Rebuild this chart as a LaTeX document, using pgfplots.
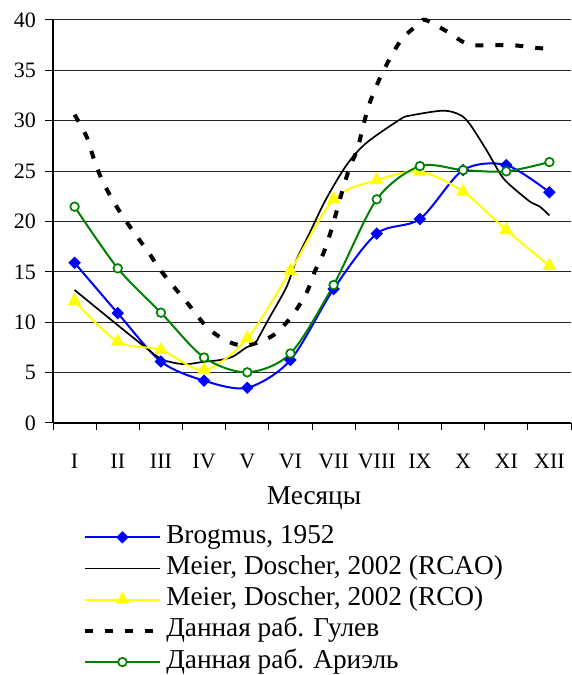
\documentclass[border=0pt]{standalone}
\usepackage{pgfplots}
\pgfplotsset{compat=1.18}
\usepackage{fontspec}
\setmainfont{Liberation Serif}
\usetikzlibrary{plotmarks}

\definecolor{serblue}{RGB}{0,0,255}
\definecolor{seryellow}{RGB}{255,255,0}
\definecolor{sergreen}{RGB}{0,128,0}

\newcommand{\tickfont}{\fontsize{22bp}{26bp}\selectfont}
\newcommand{\legfont}{\fontsize{27.3bp}{31bp}\selectfont}

% monthly means, months numbered 1..12
\pgfplotstableread{
m  v
1  15.9
2  10.9
3  6.1
4  4.2
5  3.5
6  6.25
7  13.3
8  18.8
9  20.25
10 25.1
11 25.6
12 22.9
}\brogmus

\pgfplotstableread{
m  v
1  12.1
2  8.07
3  7.25
4  5.26
5  8.4
6  15.1
7  22.2
8  24.1
9  24.95
10 22.96
11 19.15
12 15.6
}\rco

\pgfplotstableread{
m  v
1  21.47
2  15.35
3  10.95
4  6.5
5  5.03
6  6.9
7  13.7
8  22.2
9  25.5
10 25.1
11 24.98
12 25.9
}\ariel

% finer series (fractional month positions)
\pgfplotstableread{
m     v
1.00  13.2
2.82  6.9
3.21  6.07
3.59  5.84
3.98  6.07
4.37  6.25
4.67  6.6
4.98  7.5
5.18  7.9
5.29  8.7
5.52  10.5
5.91  13.5
6.14  16.2
6.45  18.9
6.81  22.1
7.30  25.6
7.76  27.8
8.53  30.1
8.76  30.5
9.53  31.0
9.92  30.6
10.15 29.7
10.54 27.1
10.85 24.8
11.04 23.8
11.54 22.0
11.77 21.5
12.00 20.6
}\rcao

\pgfplotstableread{
m     v
1.00  30.6
1.28  28.4
1.47  25.9
1.66  23.9
1.97  21.5
2.36  19.0
2.67  17.2
3.02  15.0
3.40  13.0
3.71  11.4
4.09  9.4
4.56  8.07
5.00  7.7
5.60  8.7
6.03  10.6
6.37  12.9
6.56  15.0
6.76  16.8
6.95  19.2
7.22  23.3
7.37  25.3
7.56  27.3
7.68  29.4
7.84  31.8
8.07  34.2
8.32  36.3
8.60  38.2
9.00  39.7
9.13  40.0
9.61  38.9
10.11 37.6
10.65 37.5
11.15 37.5
11.77 37.2
12.00 37.2
}\gulev

\begin{document}
\begin{tikzpicture}[x=1bp,y=1bp]
\path[use as bounding box] (0,0) rectangle (572,675);
\begin{axis}[
  at={(53bp,252bp)}, anchor=south west,
  scale only axis, width=518bp, height=403bp,
  xmin=0.5, xmax=12.5, ymin=0, ymax=40,
  clip=false,
  axis x line*=bottom, axis y line*=left,
  axis line style={-, line width=1.2bp, black},
  xtick={1,...,12},
  xticklabels={I,II,III,IV,V,VI,VII,VIII,IX,X,XI,XII},
  minor xtick={0.5,1.5,...,12.5},
  ytick={0,5,...,40},
  yticklabels={\mbox{0},\mbox{5},\mbox{10},\mbox{15},\mbox{20},\mbox{25},\mbox{30},\mbox{35},\mbox{40}},
  tick align=outside,
  major tick length=8bp, minor tick length=7bp,
  major x tick style={draw=none},
  tick style={line width=1bp, black},
  ymajorgrids,
  major grid style={line width=1bp, black!85},
  xticklabel style={font=\tickfont, anchor=base, inner sep=0pt, yshift=-37.5bp},
  yticklabel style={font=\tickfont, anchor=east, inner sep=0pt, xshift=-9bp},
  xlabel={Месяцы},
  xlabel style={font=\legfont, at={(axis description cs:0.5,0)}, anchor=base, inner sep=0pt, yshift=-82bp, xshift=2bp},
  legend cell align=left,
  legend style={
    at={(axis description cs:0.0573,-0.2538)}, anchor=north west,
    draw=none, fill=none, inner sep=0pt, outer sep=0pt,
    row sep=7.2bp, column sep=4bp,
    font=\legfont,
    nodes={inner sep=0pt, outer sep=0pt, text height=18bp, text depth=6bp},
  },
  legend image code/.code={%
    \draw[mark repeat=2,mark phase=2,#1] plot coordinates {(0bp,0bp) (37.8bp,0bp) (75.6bp,0bp)};},
]
\addplot[serblue, line width=2bp, smooth, mark=square*, mark size=3.9bp,
  mark options={rotate=45, solid, fill=serblue, line width=1bp}] table[x=m, y=v] {\brogmus};
\addlegendentry{Brogmus, 1952}
\addplot[black, line width=1.7bp, smooth, no markers] table[x=m, y=v] {\rcao};
\addlegendentry{Meier, Doscher, 2002 (RCAO)}
\addplot[seryellow, line width=2bp, smooth, mark=triangle*, mark size=7bp,
  mark options={solid, fill=seryellow, line width=1bp}] table[x=m, y=v] {\rco};
\addlegendentry{Meier, Doscher, 2002 (RCO)}
\addplot[black, line width=4bp, smooth, dash pattern=on 8bp off 12bp, no markers] table[x=m, y=v] {\gulev};
\addlegendentry{Данная раб. Гулев}
\addplot[sergreen, line width=2bp, smooth, mark=*, mark size=4.3bp,
  mark options={solid, fill=white, line width=1.7bp}] table[x=m, y=v] {\ariel};
\addlegendentry{Данная раб. Ариэль}
\end{axis}
\end{tikzpicture}
\end{document}
